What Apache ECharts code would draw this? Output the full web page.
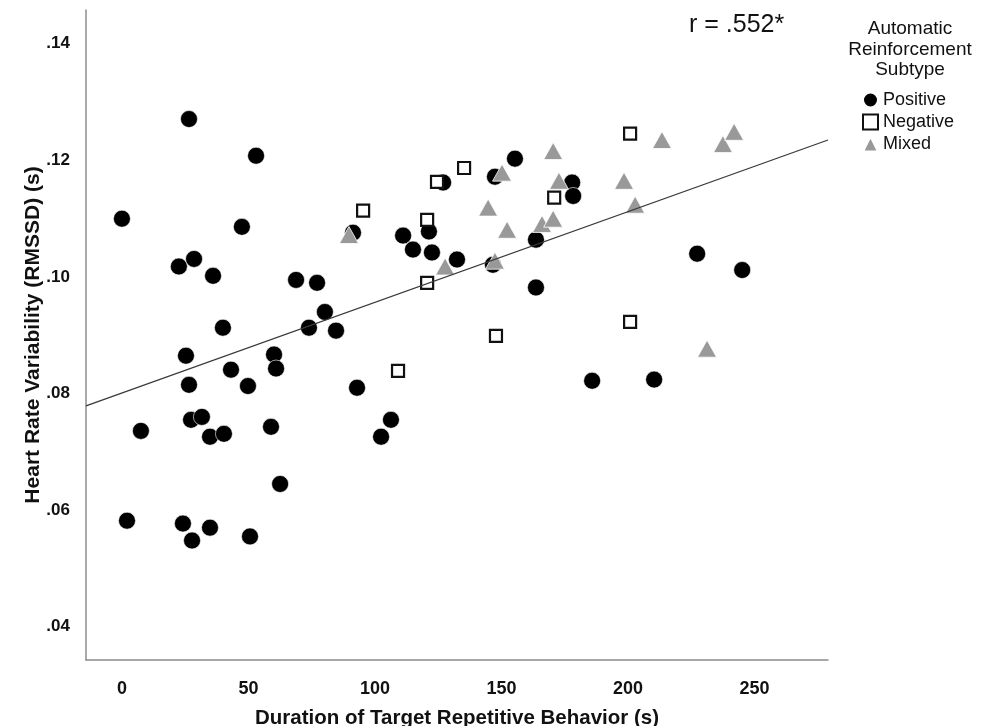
<!DOCTYPE html>
<head>
    <meta charset="utf-8"/>
    <style>
        html,body { height:100%; width:100%; margin:0; padding:0; background:#fff; }
    </style>
</head>
<body>

<div id="scatter" style="width: 983px;height:726px"></div>

<script src="https://cdn.jsdelivr.net/npm/echarts@6/dist/echarts.min.js"></script>
<script type="text/javascript">

 // data: [duration (s), RMSSD (s)]
 var positiveX = [0, 2.0, 7.5, 26.5, 53.0, 47.4, 22.5, 28.5, 36.0, 68.8, 77.1, 25.3, 26.5, 39.9, 43.1, 49.8,
                  60.1, 60.9, 80.2, 73.9, 84.6, 27.3, 31.6, 34.8, 40.3, 58.9, 62.5, 24.1, 34.8, 27.7, 50.6,
                  92.9, 106.3, 102.4, 185.8, 210.3, 227.3, 245.1, 177.9, 178.3, 163.6, 163.6, 155.3, 147.4,
                  146.6, 132.4, 126.9, 121.3, 111.1, 115.0, 122.5, 91.3];
 var positiveY = [.1100, .0582, .0736, .1271, .1208, .1086, .1018, .1031, .1002, .0995, .0990, .0865, .0815,
                  .0913, .0841, .0813, .0867, .0843, .0940, .0913, .0908, .0755, .0760, .0726, .0731, .0743,
                  .0645, .0577, .0570, .0548, .0555, .0810, .0755, .0726, .0822, .0824, .1040, .1012, .1162,
                  .1139, .1064, .0982, .1203, .1172, .1021, .1030, .1162, .1078, .1071, .1047, .1042, .1076];

 var negativeX = [95.3, 124.5, 135.2, 120.6, 120.6, 109.1, 147.8, 170.8, 200.8, 200.8];
 var negativeY = [.1114, .1163, .1187, .1098, .0990, .0839, .0899, .1136, .1246, .0923];

 var mixedX = [89.7, 127.7, 150.2, 170.4, 172.7, 144.7, 152.2, 166.0, 170.4, 147.4, 198.4, 202.8, 213.4,
               237.5, 241.9, 231.2];
 var mixedY = [.1072, .1018, .1179, .1216, .1165, .1119, .1081, .1091, .1100, .1028, .1165, .1124, .1235,
               .1228, .1249, .0877];

 // fit line end points (at the plot edges)
 var fitX = [-14.2, 279];
 var fitY = [.0779, .1235];

 var xTicks = [0, 50, 100, 150, 200, 250];
 var yTicks = [.04, .06, .08, .10, .12, .14];

 function pairs(xs, ys){
     var out = [];
     for (var i = 0; i < xs.length; i++) out.push([xs[i], ys[i]]);
     return out;
 }

 var sans = '"Liberation Sans", Arial, sans-serif';

 var myChart = echarts.init(document.getElementById('scatter'));

 var option = {
    animation: false,
    backgroundColor: '#fff',
    grid: {
        left: 86,
        right: 155,
        top: 10,
        bottom: 66,
        outerBoundsMode: 'none'
    },
    xAxis: {
        type: 'value',
        min: -14.2,
        max: 279,
        name: 'Duration of Target Repetitive Behavior (s)',
        nameLocation: 'middle',
        nameGap: 48,
        nameMoveOverlap: false,
        nameTextStyle: { fontFamily: sans, fontWeight: 'bold', fontSize: 20.5, color: '#111' },
        axisLine: { onZero: false, lineStyle: { color: '#8c8c8c', width: 1.5 } },
        axisTick: { show: false },
        splitLine: { show: false },
        axisLabel: {
            customValues: xTicks,
            margin: 20,
            fontFamily: sans, fontWeight: 'bold', fontSize: 18, color: '#111'
        }
    },
    yAxis: {
        type: 'value',
        min: .0343,
        max: .1458,
        name: 'Heart Rate Variability (RMSSD) (s)',
        nameLocation: 'middle',
        nameGap: 42,
        nameMoveOverlap: false,
        nameTextStyle: { fontFamily: sans, fontWeight: 'bold', fontSize: 21, color: '#111' },
        axisLine: { onZero: false, lineStyle: { color: '#8c8c8c', width: 1.5 } },
        axisTick: { show: false },
        splitLine: { show: false },
        axisLabel: {
            customValues: yTicks,
            margin: 16,
            fontFamily: sans, fontWeight: 'bold', fontSize: 17, color: '#111',
            formatter: function (v) { return v.toFixed(2).replace(/^0/, ''); }
        }
    },
    legend: {
        orient: 'vertical',
        left: 857,
        top: 86,
        itemGap: 4,
        itemWidth: 15,
        itemHeight: 15,
        textStyle: { fontFamily: sans, fontSize: 18, color: '#111' },
        data: [
            { name: 'Positive', icon: 'circle' },
            { name: 'Negative', icon: 'rect', itemStyle: { borderWidth: 2 } },
            { name: 'Mixed', icon: 'triangle' }
        ]
    },
    graphic: [
        {
            type: 'text',
            x: 910,
            y: 19,
            style: {
                text: 'Automatic\nReinforcement\nSubtype',
                align: 'center',
                font: '19px "Liberation Sans", Arial, sans-serif',
                lineHeight: 20.5,
                fill: '#111'
            }
        },
        {
            type: 'text',
            x: 689,
            y: 13,
            style: {
                text: 'r = .552*',
                font: '25px "Liberation Sans", Arial, sans-serif',
                fill: '#111'
            }
        }
    ],
    series: [
        {
            name: 'Positive',
            type: 'scatter',
            symbol: 'circle',
            symbolSize: 17,
            itemStyle: { color: '#000', opacity: 1, borderColor: '#fff', borderWidth: 0.6 },
            data: pairs(positiveX, positiveY),
            z: 2
        },
        {
            name: 'Negative',
            type: 'scatter',
            symbol: 'rect',
            symbolSize: 12,
            itemStyle: { color: '#fff', opacity: 1, borderColor: '#111', borderWidth: 2.2 },
            data: pairs(negativeX, negativeY),
            z: 3
        },
        {
            name: 'Mixed',
            type: 'scatter',
            symbol: 'triangle',
            symbolSize: [19, 17],
            itemStyle: { color: '#999', opacity: 1, borderColor: '#fff', borderWidth: 0.8 },
            data: pairs(mixedX, mixedY),
            z: 4
        },
        {
            name: 'fit',
            type: 'line',
            symbol: 'none',
            silent: true,
            lineStyle: { color: '#3a3a3a', width: 1.3 },
            data: pairs(fitX, fitY),
            z: 5
        }
    ]
 };

 myChart.setOption(option);

</script>
</body>
